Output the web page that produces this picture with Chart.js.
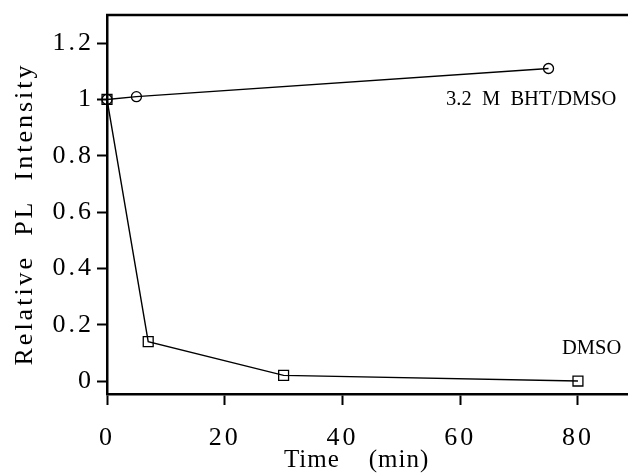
<!DOCTYPE html>
<html>
<head>
<meta charset="utf-8">
<script src="https://cdn.jsdelivr.net/npm/chart.js@4/dist/chart.umd.min.js"></script>
<style>
  html, body { margin: 0; padding: 0; background: #fff; }
  #wrap { width: 628px; height: 475px; }
</style>
</head>
<body>
<div id="wrap"><canvas id="plot"></canvas></div>
<script>
// data
const bhtTime = [0, 5, 75];
const bhtPL = [1, 1.01, 1.11];
const dmsoTime = [0, 7, 30, 80];
const dmsoPL = [1, 0.14, 0.02, 0];

const xTicks = [0, 20, 40, 60, 80];
const yTicks = [0, 0.2, 0.4, 0.6, 0.8, 1, 1.2];

// text labels next to the curves, anchored in data units
const labelText = ['3.2  M  BHT/DMSO', 'DMSO'];
const labelX = [57.6, 77.3];
const labelY = [1.0, 0.114];

const SERIF = "'Liberation Serif', 'Times New Roman', serif";

function pts(xs, ys){ return xs.map((x, i) => ({x: x, y: ys[i]})); }

// letter spacing for axis text (reset after every canvas resize)
const spacing = {
  id: 'spacing',
  beforeLayout(c){ c.ctx.letterSpacing = '3px'; },
  beforeDraw(c){ c.ctx.letterSpacing = '3px'; }
};

// x title is set tighter than the rest
function tightTitle(s, px){
  if(s._tight) return;
  const orig = s.drawTitle;
  s.drawTitle = function(){
    const prev = this.ctx.letterSpacing;
    this.ctx.letterSpacing = px;
    orig.apply(this, arguments);
    this.ctx.letterSpacing = prev;
  };
  s._tight = true;
}

// top frame line + curve labels
const extras = {
  id: 'extras',
  afterDraw(c){
    const ctx = c.ctx, a = c.chartArea;
    ctx.save();
    ctx.letterSpacing = '0px';
    ctx.strokeStyle = '#000';
    ctx.lineWidth = 2.5;
    ctx.beginPath();
    ctx.moveTo(a.left - 1, a.top);
    ctx.lineTo(c.width, a.top);
    ctx.stroke();

    ctx.fillStyle = '#000';
    ctx.font = '20.5px ' + SERIF;
    ctx.textAlign = 'left';
    ctx.textBaseline = 'middle';
    labelText.forEach((t, i) => {
      ctx.fillText(t, c.scales.x.getPixelForValue(labelX[i]), c.scales.y.getPixelForValue(labelY[i]));
    });
    ctx.restore();
  }
};

new Chart(document.getElementById('plot'), {
  type: 'line',
  data: {
    datasets: [
      {
        label: 'DMSO',
        data: pts(dmsoTime, dmsoPL),
        borderColor: '#000', borderWidth: 1.4,
        pointStyle: 'rect', pointRadius: 7,
        pointBackgroundColor: 'rgba(255,255,255,0)', pointBorderColor: '#000', pointBorderWidth: 1.3,
        clip: false
      },
      {
        label: '3.2 M BHT/DMSO',
        data: pts(bhtTime, bhtPL),
        borderColor: '#000', borderWidth: 1.4,
        pointStyle: 'circle', pointRadius: 5,
        pointBackgroundColor: 'rgba(255,255,255,0)', pointBorderColor: '#000', pointBorderWidth: 1.3,
        clip: false
      }
    ]
  },
  options: {
    responsive: true,
    maintainAspectRatio: false,
    animation: false,
    layout: { autoPadding: false, padding: { top: 15, right: 0, bottom: 0, left: 0 } },
    plugins: { legend: { display: false }, tooltip: { enabled: false } },
    scales: {
      x: {
        type: 'linear',
        min: 0, max: 88.5,
        afterFit(s){ s.height = 81; s.paddingLeft = 0; s.paddingRight = 0; tightTitle(s, '1px'); },
        afterBuildTicks(s){ s.ticks = xTicks.map(v => ({value: v})); },
        border: { display: true, color: '#000', width: 2.5 },
        grid: { display: true, drawOnChartArea: false, drawTicks: true, tickLength: 11, tickWidth: 2, tickColor: '#000' },
        ticks: {
          color: '#000', padding: 18, maxRotation: 0,
          font: { family: SERIF, size: 26 },
          callback: v => String(v)
        },
        title: {
          display: true, text: 'Time    (min)   ', color: '#000',
          font: { family: SERIF, size: 25 }, padding: { top: 0, bottom: 0 }
        }
      },
      y: {
        type: 'linear',
        min: -0.046, max: 1.3,
        afterFit(s){ s.width = 107; s.paddingTop = 0; s.paddingBottom = 0; },
        afterBuildTicks(s){ s.ticks = yTicks.map(v => ({value: v})); },
        border: { display: true, color: '#000', width: 2.5 },
        grid: { display: true, drawOnChartArea: false, drawTicks: true, tickLength: 10, tickWidth: 2, tickColor: '#000' },
        ticks: {
          color: '#000', padding: 3,
          font: { family: SERIF, size: 26 },
          callback: v => String(v)
        },
        title: {
          display: true, text: 'Relative  PL  Intensity  ', color: '#000',
          font: { family: SERIF, size: 26 }, padding: { top: 10, bottom: 0 }
        }
      }
    }
  },
  plugins: [spacing, extras]
});
</script>
</body>
</html>
